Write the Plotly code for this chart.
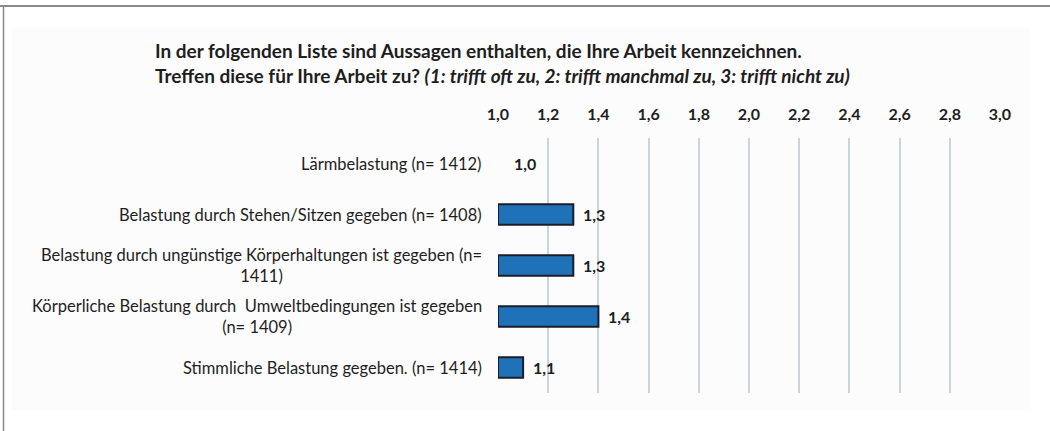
import plotly.graph_objects as go

categories = [
    "Lärmbelastung (n= 1412)",
    "Belastung durch Stehen/Sitzen gegeben (n= 1408)",
    "Belastung durch ungünstige Körperhaltungen ist gegeben (n=<br>1411)",
    "Körperliche Belastung durch  Umweltbedingungen ist gegeben<br>(n= 1409)",
    "Stimmliche Belastung gegeben. (n= 1414)",
]
values = [1.0, 1.3, 1.3, 1.4, 1.1]
tick_vals = [1.0, 1.2, 1.4, 1.6, 1.8, 2.0, 2.2, 2.4, 2.6, 2.8, 3.0]
tick_text = ["1,0", "1,2", "1,4", "1,6", "1,8", "2,0", "2,2", "2,4", "2,6", "2,8", "3,0"]

W, H = 1050, 431
L, R, T, B = 498, 50, 138, 38
PW, PH = W - L - R, H - T - B

def px_x(p):
    return (p - L) / PW

def px_y(p):
    return 1 - (p - T) / PH

FONT = "Lato"
TXT = "#1e1e1e"

ids = list(range(len(categories)))
base_val = 1.0
lengths = [v - base_val for v in values]
labels = [f"{v:.1f}".replace(".", ",") for v in values]

fig = go.Figure()
fig.add_trace(go.Bar(
    y=ids, x=lengths, base=base_val, orientation="h",
    marker=dict(color="#1f72b8",
                line=dict(color="#1c1c2a", width=[0 if l == 0 else 2 for l in lengths])),
    width=0.4,
    showlegend=False, hoverinfo="skip",
))

annotations = []
for i, c in enumerate(categories):
    annotations.append(dict(
        x=px_x(484), xref="paper", y=i, yref="y", text=c, showarrow=False,
        xanchor="right", yanchor="middle", align="center",
        font=dict(family=FONT, size=16.5, color=TXT),
    ))
for i, (v, lab) in enumerate(zip(values, labels)):
    annotations.append(dict(
        x=v, xref="x", y=i, yref="y", text=lab, showarrow=False,
        xanchor="left", yanchor="middle", xshift=(14 if v == base_val else 8),
        font=dict(family=FONT, size=16, color=TXT, weight="bold"),
    ))

fig.update_layout(
    width=W, height=H,
    margin=dict(l=L, r=R, t=T, b=B),
    paper_bgcolor="white", plot_bgcolor="rgba(0,0,0,0)",
    title=dict(
        text="In der folgenden Liste sind Aussagen enthalten, die Ihre Arbeit kennzeichnen.<br>"
             "Treffen diese für Ihre Arbeit zu? <i>(1: trifft oft zu, 2: trifft manchmal zu, 3: trifft nicht zu)</i>",
        x=155 / W, xanchor="left", xref="container",
        y=1 - 58 / H, yanchor="top", yref="container",
        font=dict(family=FONT, size=19, color=TXT, weight="bold"),
    ),
    xaxis=dict(
        range=[1.0, 3.0], side="top", tickvals=tick_vals, ticktext=tick_text,
        showgrid=True, gridcolor="#c9d5d9", gridwidth=1.5,
        zeroline=False, showline=False, ticks="", ticklabelstandoff=14,
        tickfont=dict(family=FONT, size=16, color=TXT, weight="bold"),
    ),
    yaxis=dict(
        range=[4.5, -0.5], tickvals=ids, showticklabels=False,
        showgrid=False, zeroline=False, showline=False, ticks="",
    ),
    annotations=annotations,
    shapes=[
        dict(type="rect", xref="paper", yref="paper",
             x0=px_x(12), x1=px_x(1030), y0=px_y(410), y1=px_y(28),
             fillcolor="#fcfcfc", line=dict(width=0), layer="below"),
        dict(type="line", xref="paper", yref="paper",
             x0=px_x(0), x1=px_x(1050), y0=px_y(6), y1=px_y(6),
             line=dict(color="#8a8a8a", width=2)),
        dict(type="line", xref="paper", yref="paper",
             x0=px_x(3.5), x1=px_x(3.5), y0=px_y(6), y1=px_y(431),
             line=dict(color="#8a8a8a", width=1.5)),
    ],
)

fig.write_html("out.html", config={"displayModeBar": False},
               post_script="document.body.style.margin='0';")
